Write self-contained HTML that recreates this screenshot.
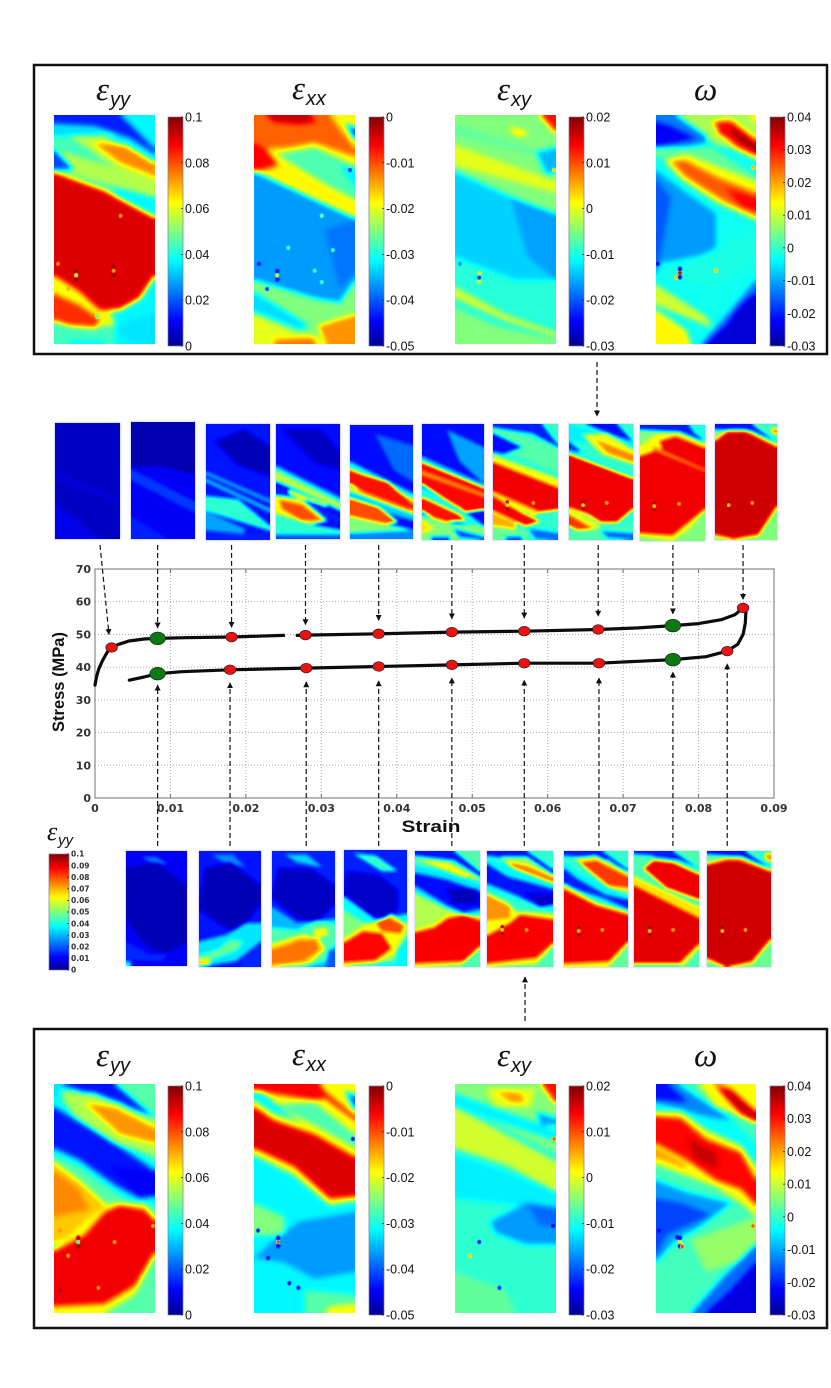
<!DOCTYPE html>
<html lang="en">
<head>
<meta charset="utf-8">
<title>Stress-strain curve with strain field maps</title>
<style>
html,body{margin:0;padding:0;background:#fff;}
body{width:831px;height:1388px;overflow:hidden;position:relative;}
canvas{position:absolute;z-index:0;display:block;}
canvas.thumb{box-shadow:0 0 1.5px 0.5px rgba(170,170,235,.7);}
svg{display:block;position:absolute;left:0;top:0;z-index:1;}
text{font-family:"Liberation Sans",sans-serif;}
.greek{font-family:"Liberation Serif","DejaVu Serif",serif;font-style:italic;}
.sub{font-family:"Liberation Sans",sans-serif;font-style:italic;}
.tick{font-family:"DejaVu Sans",sans-serif;font-weight:bold;fill:#333;}
</style>
</head>
<body>
<div id="fields"></div>
<svg id="root" xmlns="http://www.w3.org/2000/svg" width="831" height="1388" viewBox="0 0 831 1388">
<defs>
<linearGradient id="jet" x1="0" y1="1" x2="0" y2="0">
<stop offset="0" stop-color="#00008f"/><stop offset=".11" stop-color="#0000ff"/><stop offset=".375" stop-color="#00ffff"/><stop offset=".625" stop-color="#ffff00"/><stop offset=".875" stop-color="#ff0000"/><stop offset="1" stop-color="#800000"/>
</linearGradient>
<marker id="arrow" markerWidth="6" markerHeight="6" refX="4.5" refY="2.5" orient="auto"><path d="M0,0 L5,2.5 L0,5 Z" fill="#111"/></marker>
</defs>
<rect x="34" y="65" width="793" height="289" fill="none" stroke="#111" stroke-width="2.5"/>
<rect x="34" y="1029" width="793" height="299" fill="none" stroke="#111" stroke-width="2.5"/>
<g id="bars"></g>
<g id="titles"></g>
<g id="plot"></g>
</svg>
<script>
// ---- Stress-strain chart data ----
var xTickLabels = ["0","0.01","0.02","0.03","0.04","0.05","0.06","0.07","0.08","0.09"];
var xTickValues = [0,0.01,0.02,0.03,0.04,0.05,0.06,0.07,0.08,0.09];
var yTickValues = [0,10,20,30,40,50,60,70];
var upperStrain = [0,0.0002,0.0005,0.001,0.0016,0.0022,0.0032,0.0045,0.0065,0.0083,0.012,0.0181,0.025];
var upperStress = [34.5,37,39.5,42,44.5,46,47,48,48.6,48.8,49,49.2,49.7];
var upperStrain2 = [0.0268,0.0279,0.0376,0.0473,0.0569,0.0667,0.072,0.0766,0.08,0.083,0.0848,0.0859];
var upperStress2 = [49.7,49.8,50.2,50.7,51,51.5,52,52.7,53.3,54.5,56,58.1];
var lowerStrain = [0.00455,0.0065,0.0083,0.0115,0.0179,0.028,0.0376,0.0473,0.0569,0.0668,0.072,0.0766,0.081,0.0838,0.0852,0.0859,0.0862,0.0863];
var lowerStress = [36,37,38,38.6,39.2,39.7,40.2,40.7,41.2,41.2,41.8,42.3,43.2,44.9,47,50,53.5,58];
var redStrain = [0.0022,0.0181,0.0279,0.0376,0.0473,0.0569,0.0667,0.0859,0.0179,0.028,0.0376,0.0473,0.0569,0.0668,0.0838];
var redStress = [46,49.2,49.8,50.2,50.7,51,51.5,58.1,39.2,39.7,40.2,40.7,41.2,41.2,44.9];
var greenStrain = [0.0083,0.0766,0.0083,0.0766];
var greenStress = [48.8,52.7,38,42.3];
var downArrowStrain = [0.0083,0.0181,0.0279,0.0376,0.0473,0.0569,0.0667,0.0766,0.0859];
var downArrowTip = [52,52.2,53,54.3,54.8,55,55.6,56.3,60.7];
var upArrowStrain = [0.0083,0.0179,0.028,0.0376,0.0473,0.0569,0.0668,0.0766,0.0838];
var upArrowTip = [34.5,35.2,35.5,35.8,36.7,36,36.7,38.5,41];

// ---- Colorbar tick labels ----
var eyyTicks = ["0","0.02","0.04","0.06","0.08","0.1"];
var exxTicks = ["-0.05","-0.04","-0.03","-0.02","-0.01","0"];
var exyTicks = ["-0.03","-0.02","-0.01","0","0.01","0.02"];
var omegaTicks = ["-0.03","-0.02","-0.01","0","0.01","0.02","0.03","0.04"];
var legendTicks = ["0","0.01","0.02","0.03","0.04","0.05","0.06","0.07","0.08","0.09","0.1"];

// ---- Field maps: [base level, [level, "polygon in % of map"], ...], spots [x,y,level,halo] ----
var fieldTopEyy = [.44,[.37,"60,0 100,0 100,100 60,100"],[.55,"0,15 100,28 100,36 0,24"],[.14,"0,0 66,0 100,15 100,17 75,10 40,5 0,4"],[.18,"0,15 20,24 0,24"],[.33,"0,5 40,6 70,12 20,9 0,9"],[.56,"15,9 50,9 100,22 100,33 50,20"],[.74,"38,12 70,13 100,21 100,27 65,21"],[.47,"0,24 100,44 100,50 0,34"],[.62,"0,66 25,73 55,85 60,92 40,92 0,79"],[.91,"0,25 50,33 100,45 100,70 85,80 65,85 45,85 25,77 0,70"],[.83,"0,78 25,83 45,89 42,93 15,92 0,90"],[.35,"60,93 100,86 100,100 75,99"],[.38,"15,98 50,98 50,100 15,100"]];
var spotsTopEyy = [[22,70,.5,.97],[4,65,.72],[59,68,.7,.97],[66,44,.7],[14,76,.7],[43,88,.45],[98,24,.72]];
var fieldTopExx = [.5,[.63,"0,0 100,0 100,46 0,24"],[.78,"0,0 75,0 100,15 100,18 60,12 35,14 0,15"],[.93,"12,0 55,0 62,3 45,4 20,3"],[.88,"0,12 12,15 24,22 0,25"],[.45,"22,17 60,14 100,22 100,37 70,30"],[.36,"85,22 100,24 100,32"],[.14,"90,3 100,6 100,11"],[.27,"0,24.5 100,45 100,72 85,82 60,80 0,72"],[.23,"70,50 100,46 100,68 85,76"],[.34,"0,77 30,85 55,92 45,94 0,86"],[.6,"0,87 40,95 70,97 75,100 0,100"],[.73,"63,92 100,87 100,100 72,100"],[.76,"20,98 58,97 62,100 20,100"]];
var spotsTopExx = [[23,70,.62,.12],[67,44,.5],[34,58,.45],[78,59,.45],[60,68,.45],[67,73,.45],[95,24,.15],[5,65,.12],[13,76,.15]];
var fieldTopExy = [.41,[.5,"0,0 100,0 100,44 0,24"],[.6,"0,13 100,29 100,34 0,22"],[.47,"0,4 100,18 100,20 0,9"],[.67,"52,5 70,7 72,9 60,9"],[.86,"84,0 100,0 100,8"],[.3,"80,16 100,14 100,25 90,26"],[.33,"0,25 100,45 100,72 60,72 0,62"],[.28,"55,36 100,43 100,72 72,62"],[.58,"0,75 50,87 100,95 100,97 50,90 0,80"],[.5,"0,84 40,92 100,98 100,100 0,100"]];
var spotsTopExy = [[24,71,.13,.6],[98,24,.7],[5,65,.25]];
var fieldTopOmega = [.39,[.54,"20,0 100,0 100,17 60,13"],[.62,"92,0 100,0 100,5"],[.24,"0,0 20,0 50,9 50,12 0,17"],[.1,"0,3 15,5 40,10 0,14"],[.47,"0,14 55,14 100,27 100,33 0,18"],[.62,"8,20 30,17 100,29 100,46 60,38 25,28"],[.79,"15,20 30,20 60,27 100,34 100,44 70,38 30,27"],[.88,"70,32 100,36 100,42 85,40"],[.75,"55,3 75,2 100,10 100,19 80,15"],[.88,"60,3 75,3 100,12 100,17 85,14 62,8"],[.98,"72,5 85,8 100,13 100,16 85,12"],[.27,"0,24 30,34 60,43 60,60 0,65"],[.2,"0,28 15,36 5,60 0,70"],[.4,"0,70 50,60 100,50 100,65 60,75"],[.22,"45,100 75,85 100,72 100,100"],[.07,"50,100 70,92 85,83 100,78 100,100"],[.58,"0,74 50,88 57,93 0,83"],[.63,"0,85 30,94 35,100 0,100"]];
var spotsTopOmega = [[24,69,.97,.1],[20,71,.7],[60,68,.7],[97,23,.72],[2,65,.1]];
var fieldBotEyy = [.46,[.35,"0,0 20,0 15,8 0,6"],[.37,"0,6 30,15 60,23 100,34 100,53 85,54 60,47 25,36 0,31"],[.13,"0,10 30,18 60,26 100,38 100,49 85,50 60,44 25,33 0,28"],[.1,"55,36 100,39 100,48 85,49"],[.13,"8,0 60,0 100,15 100,17 65,8 30,4"],[.55,"5,3 40,4 100,15 100,31 60,26 20,14"],[.73,"30,8 60,10 100,19 100,26 65,22"],[.68,"0,34 25,42 50,52 60,56 30,64 0,70"],[.74,"0,38 25,46 35,55 0,58"],[.62,"0,72 30,60 55,52 90,52 100,58 100,75 80,92 50,100 0,100"],[.89,"0,73 30,66 50,56 65,53 90,55 100,60 100,73 80,88 50,96 0,97"]];
var spotsBotEyy = [[24,69,.4,.97],[6,64,.72],[60,69,.7],[14,75,.7],[6,90,.95],[44,89,.72],[98,62,.7]];
var fieldBotExx = [.37,[.62,"0,0 100,0 100,32 30,12"],[.45,"20,9 60,8 100,22 100,28 60,18"],[.88,"0,0 65,0 75,6 60,7 30,5 0,3"],[.86,"70,3 100,14 100,16 72,7"],[.2,"90,3 100,5 100,12"],[.62,"0,7 20,13 60,19 100,29 100,51 75,53 40,40 0,31"],[.91,"0,10 20,16 60,22 100,32 100,49 75,50 40,36 0,28"],[.5,"0,52 30,58 30,66 0,66"],[.27,"45,60 100,56 100,82 60,85 30,78 0,76 20,68"],[.46,"50,90 100,92 100,100 50,100"],[.62,"75,97 100,96 100,100 70,100"]];
var spotsBotExx = [[24,69,.85,.12],[4,64,.1],[14,76,.1],[35,87,.1],[44,89,.1],[98,24,.1]];
var fieldBotExy = [.42,[.5,"0,0 100,0 100,30 0,8"],[.6,"30,2 80,2 75,10 40,10"],[.73,"40,3 65,4 70,8 55,8"],[.86,"85,0 100,0 100,9"],[.36,"0,4 100,20 100,25 0,10"],[.27,"80,12 100,15 100,18 85,18"],[.58,"0,10 50,22 100,34 100,47 50,35 0,28"],[.36,"0,30 50,38 100,47 100,55 0,50"],[.27,"35,60 70,52 100,55 100,70 70,70 40,65"],[.22,"70,52 100,54 100,62 85,62"],[.47,"0,82 50,90 60,100 0,100"]];
var spotsBotExy = [[24,69,.1],[15,75,.7],[44,89,.1],[97,62,.1],[98,24,.8]];
var fieldBotOmega = [.44,[.62,"42,0 100,0 100,16 60,10"],[.25,"0,0 22,0 60,11 78,16 40,14 0,10"],[.12,"0,0 12,0 32,8 0,7"],[.38,"0,8 40,13 80,17 100,26 100,36 60,22 0,12"],[.85,"58,0 75,2 100,12 100,17 85,14"],[.98,"62,2 75,4 100,13 100,15 85,11"],[.62,"0,12 25,12 50,20 85,27 100,36 100,58 85,52 60,45 30,40 0,35"],[.87,"0,14 25,15 50,24 85,30 100,42 100,53 85,46 60,42 30,33 0,26"],[.93,"30,23 60,30 62,37 40,33"],[.72,"0,28 30,35 30,37 0,32"],[.27,"0,42 30,47 75,52 45,62 20,68 0,78"],[.18,"0,50 25,52 55,57 25,63 10,66 0,75"],[.52,"35,68 100,58 100,75 50,82"],[.22,"35,100 70,83 100,70 100,100"],[.08,"50,100 75,90 100,78 100,100"]];
var spotsBotOmega = [[24,69,.65,.1],[21,67,.1],[26,71,.85],[3,64,.1],[97,62,.8]];

var t1 = [.05,[.09,"0,68 70,100 0,100"],[.07,"0,40 100,65 100,70 0,50"]];
var t2 = [.1,[.03,"0,0 100,0 100,45 50,38 0,38"],[.17,"0,40 100,68 100,78 0,50"],[.14,"0,80 60,100 0,100"]];
var t3 = [.13,[.04,"15,15 60,5 100,20 100,45 50,35"],[.13,"0,36 100,62 100,100 0,100"],[.3,"0,41 100,65 100,68 0,44"],[.34,"0,47 100,73 100,76 0,50"],[.42,"0,62 50,65 100,88 100,92 0,75"],[.28,"0,75 60,90 60,95 0,92"],[.14,"0,95 100,95 100,100 0,100"]];
var t4 = [.12,[.05,"10,5 70,5 100,25 100,40 60,33"],[.35,"0,36 100,64 100,76 0,46"],[.55,"0,40 100,68 100,74 0,50"],[.72,"20,57 80,70 80,72 20,61"],[.15,"0,55 100,82 100,86 0,59"],[.62,"0,62 40,65 80,84 50,88 0,80"],[.8,"5,66 40,70 72,84 40,84 10,74"],[.42,"0,78 60,88 100,92 100,97 0,97"],[.2,"0,96 100,96 100,100 0,100"]];
var t5 = [.12,[.22,"40,8 100,18 100,50 70,40"],[.38,"0,32 100,60 100,75 0,45"],[.65,"0,38 100,65 100,76 0,52"],[.86,"0,40 60,50 100,70 100,74 60,72 0,52"],[.68,"0,54 100,75 100,80 0,60"],[.32,"0,58 100,78 100,84 0,68"],[.8,"0,64 45,72 76,85 50,88 0,80"],[.5,"0,80 100,92 100,96 0,95"],[.25,"0,95 100,92 100,100 0,100"]];
var t6 = [.12,[.28,"40,5 100,20 100,52 60,32"],[.35,"0,28 100,52 100,62 0,38"],[.87,"0,33 100,55 100,74 70,76 40,66 0,52"],[.72,"0,40 100,60 100,63 0,44"],[.4,"0,54 60,72 100,88 100,92 60,84 0,62"],[.86,"0,63 60,78 70,83 30,85 0,75"],[.5,"0,78 50,86 100,88 100,100 0,100"],[.65,"0,83 20,90 0,94"],[.2,"50,90 100,97 100,100 60,98"],[.18,"15,97 45,97 45,100 15,100"]];
var t7 = [.42,[.14,"0,0 75,0 100,18 100,20 60,8 0,3"],[.46,"0,3 100,20 100,42 0,18"],[.12,"0,8 45,20 15,26 0,24"],[.62,"0,27 100,47 100,55 0,33"],[.89,"0,33 100,55 100,74 70,76 0,60"],[.65,"0,58 70,75 65,80 0,62"],[.88,"0,62 50,78 72,84 50,88 0,75"],[.7,"0,76 35,85 35,92 0,90"],[.48,"0,88 50,92 55,100 0,100"],[.22,"55,90 100,94 100,100 65,99"],[.18,"20,97 45,97 45,100 20,100"]];
var t8 = [.42,[.12,"25,0 75,0 100,15 70,10"],[.36,"0,0 100,15 100,20 0,15"],[.16,"0,15 20,24 0,24"],[.6,"20,9 60,8 100,22 100,35 50,26"],[.74,"40,13 100,26 100,33 60,25"],[.38,"0,22 100,46 100,50 0,25"],[.89,"0,26 100,47 100,73 75,85 50,85 30,78 0,72"],[.6,"0,72 30,80 50,88 40,94 0,85"],[.82,"0,78 30,88 45,92 15,92 0,88"],[.45,"0,92 100,88 100,100 0,100"],[.22,"50,92 100,94 100,100 60,98"]];
var t9 = [.5,[.14,"0,0 75,0 100,15 60,6 0,4"],[.4,"75,0 100,0 100,12 85,8"],[.62,"0,18 25,8 60,6 100,16 100,74 75,90 50,100 0,96"],[.89,"0,27 35,20 30,14 55,10 100,20 100,72 50,95 0,93"],[.74,"20,18 100,38 100,40 20,22"]];
var t10 = [.5,[.13,"0,0 60,0 100,16 60,6 0,5"],[.42,"70,0 100,0 100,16"],[.72,"90,3 100,4 100,9 92,8"],[.62,"0,12 20,5 50,5 100,18 100,72 70,97 30,100 0,98"],[.92,"0,15 20,7 50,7 100,20 100,70 70,95 30,99 0,95"]];
var b1 = [.1,[.04,"0,15 50,10 100,30 100,80 60,90 30,80 0,60"],[.23,"25,5 50,5 70,12 40,10"],[.15,"0,78 40,90 70,88 60,96 0,95"],[.38,"0,96 8,96 8,100 0,100"]];
var b2 = [.13,[.25,"20,3 55,3 75,14 40,10"],[.04,"10,15 50,10 100,30 100,45 65,70 40,65 0,50"],[.35,"0,78 45,72 75,62 100,62 100,78 60,95 0,100"],[.47,"0,90 30,85 50,76 72,78 60,86 0,98"],[.65,"0,93 18,93 18,98 0,99"],[.15,"70,92 100,80 100,100 70,100"]];
var b3 = [.14,[.33,"20,3 55,3 80,14 40,10"],[.05,"10,15 60,15 100,30 100,45 70,62 40,58 0,40"],[.3,"0,48 40,62 100,58 100,100 0,100"],[.45,"0,66 40,68 70,60 100,62 100,80 85,95 50,100 0,100"],[.65,"0,80 30,75 50,72 75,75 85,85 60,97 0,100"],[.76,"0,85 30,80 40,77 70,77 75,85 50,95 0,98"],[.63,"65,68 85,66 90,72 70,75"],[.2,"90,85 100,85 100,100 85,100"]];
var b4 = [.14,[.43,"15,3 50,5 85,18 60,18"],[.06,"5,18 55,22 85,35 85,50 70,62 40,55 0,38"],[.38,"0,40 50,60 100,55 100,100 0,100"],[.5,"0,52 30,62 100,62 100,95 0,100"],[.62,"0,76 30,65 55,62 75,55 100,65 95,75 80,90 50,98 0,100"],[.87,"0,80 30,70 60,72 75,85 50,95 0,97"],[.8,"50,62 70,58 95,65 90,72 60,70"],[.37,"85,85 100,75 100,100 80,100"]];
var b5 = [.45,[.13,"0,0 60,0 100,18 100,22 60,8 0,4"],[.62,"5,7 50,10 100,24 70,22"],[.35,"0,12 50,18 100,28 100,54 75,58 50,52 0,36"],[.12,"0,19 50,25 100,35 100,50 75,53 50,47 0,30"],[.04,"49,33 95,33 95,45 60,45"],[.55,"0,36 50,50 75,55 40,65 0,72"],[.62,"0,68 30,62 50,54 100,56 100,86 70,99 0,100"],[.88,"0,70 30,66 50,58 75,55 100,60 100,82 75,95 0,97"],[.45,"75,96 100,84 100,100 70,100"]];
var b6 = [.42,[.13,"0,0 60,0 100,16 100,20 70,10 0,4"],[.53,"20,5 60,5 100,20 100,34 60,28"],[.74,"30,9 60,12 100,22 100,28 50,20"],[.37,"0,6 100,28 100,52 0,33"],[.13,"0,11 30,22 100,33 100,46 80,48 40,37 0,28"],[.06,"60,36 100,38 100,46 80,48"],[.62,"0,36 30,44 60,60 30,70 0,80"],[.73,"0,38 35,48 35,58 0,60"],[.62,"0,75 35,62 50,52 100,54 100,82 75,98 0,100"],[.88,"0,73 35,62 50,55 100,59 100,79 75,92 0,97"],[.45,"75,97 100,84 100,100 70,100"]];
var b7 = [.42,[.14,"0,0 60,0 100,16 100,20 70,8 0,4"],[.6,"15,6 50,4 100,18 100,36 70,32"],[.82,"25,10 50,8 100,22 100,32 70,30"],[.36,"0,10 20,18 70,32 100,40 100,54 60,44 0,32"],[.14,"0,15 20,24 65,38 100,42 100,50 60,40 0,30"],[.62,"0,28 50,44 100,52 100,82 70,100 0,100"],[.89,"0,33 50,47 100,55 100,78 70,95 0,97"],[.47,"72,100 100,80 100,100"]];
var b8 = [.45,[.14,"0,0 60,0 100,15 70,8 0,3"],[.45,"0,3 30,4 15,16 0,22"],[.65,"0,22 100,48 100,60 0,32"],[.89,"15,15 30,8 60,10 100,20 100,42 50,32"],[.9,"0,30 100,58 100,80 70,97 0,97"],[.62,"70,97 100,80 100,84 75,100"]];
var b9 = [.48,[.13,"0,0 60,0 100,15 50,5 0,3"],[.42,"70,0 100,0 100,15"],[.72,"90,2 100,2 100,9 92,8"],[.62,"0,10 30,5 55,5 100,16 100,78 70,98 30,100 0,95"],[.92,"0,12 30,8 50,8 100,18 100,75 70,95 30,100 0,92"]];
var spotsThumbT7 = [[22,70,.62,.97],[62,68,.7]];
var spotsThumbT8 = [[22,70,.64,.97],[59,68,.7]];
var spotsThumbT9 = [[22,70,.64,.97],[60,68,.7]];
var spotsThumbT10 = [[22,70,.64,.97],[60,68,.7]];
var spotsThumbB6 = [[23,68,.64,.97],[60,68,.7]];
var spotsThumbB7 = [[23,69,.64,.97],[60,68,.7]];
var spotsThumbB8 = [[24,69,.64,.97],[60,68,.7]];
var spotsThumbB9 = [[24,69,.64,.97],[60,68,.7]];

var NS = "http://www.w3.org/2000/svg";
function mk(tag, attrs, parent, txt){
  var e = document.createElementNS(NS, tag);
  for (var k in attrs) e.setAttribute(k, attrs[k]);
  if (txt !== undefined) e.textContent = txt;
  parent.appendChild(e);
  return e;
}
function piece(p, stops){
  for (var i = 1; i < stops.length; i++) {
    if (p <= stops[i][0]) {
      var a = stops[i-1], b = stops[i], t = (p - a[0]) / (b[0] - a[0]);
      return a[1] + (b[1] - a[1]) * t;
    }
  }
  return stops[stops.length-1][1];
}
var jetR = [[0,0],[.375,0],[.625,255],[.875,255],[1,128]];
var jetG = [[0,0],[.11,0],[.375,255],[.625,255],[.875,0],[1,0]];
var jetB = [[0,143],[.11,255],[.375,255],[.625,0],[1,0]];
function boxPass(src, w, h, r){
  var tmp = new Float32Array(src.length), x, y, k, s, n = 2 * r + 1;
  for (y = 0; y < h; y++) {
    for (x = 0; x < w; x++) {
      s = 0;
      for (k = -r; k <= r; k++) s += src[y * w + Math.max(0, Math.min(w - 1, x + k))];
      tmp[y * w + x] = s / n;
    }
  }
  for (y = 0; y < h; y++) {
    for (x = 0; x < w; x++) {
      s = 0;
      for (k = -r; k <= r; k++) s += tmp[Math.max(0, Math.min(h - 1, y + k)) * w + x];
      src[y * w + x] = s / n;
    }
  }
}
function stamp(val, w, h, cx, cy, rx, ry, level){
  for (var y = Math.floor(cy - ry - 1); y <= cy + ry + 1; y++) {
    for (var x = Math.floor(cx - rx - 1); x <= cx + rx + 1; x++) {
      if (x < 0 || y < 0 || x >= w || y >= h) continue;
      var d = Math.pow((x + .5 - cx) / rx, 2) + Math.pow((y + .5 - cy) / ry, 2);
      if (d < 1) {
        var a = 1 - d * d;
        val[y * w + x] = val[y * w + x] * (1 - a) + level * a;
      }
    }
  }
}
function drawField(name, field, spots, x, y, w, h, passes){
  var host = document.getElementById("fields");
  var c = document.createElement("canvas");
  
  
  c.width = w;
  c.height = h;
  c.style.left = x + "px";
  c.style.top = y + "px";
  if (w < 80) c.className = "thumb";
  host.appendChild(c);
  var ctx = c.getContext("2d");
  function grey(v){ var n = Math.round(v * 255); return "rgb(" + n + "," + n + "," + n + ")"; }
  ctx.fillStyle = grey(field[0]);
  ctx.fillRect(0, 0, w, h);
  for (var i = 1; i < field.length; i++) {
    var pts = field[i][1].split(" ");
    ctx.beginPath();
    pts.forEach(function(p, j){
      var q = p.split(",");
      var px = q[0] / 100 * w, py = q[1] / 100 * h;
      if (j) ctx.lineTo(px, py); else ctx.moveTo(px, py);
    });
    ctx.closePath();
    ctx.fillStyle = grey(field[i][0]);
    ctx.fill();
  }
  var img = ctx.getImageData(0, 0, w, h), d = img.data;
  var val = new Float32Array(w * h), n;
  for (n = 0; n < val.length; n++) val[n] = d[n * 4] / 255;
  for (n = 0; n < passes; n++) boxPass(val, w, h, 2);
  var big = w > 80;
  (spots || []).forEach(function(sp){
    var cx = sp[0] / 100 * w, cy = sp[1] / 100 * h;
    if (sp[3] !== undefined) {
      stamp(val, w, h, cx, cy - (big ? 4 : 3), big ? 2.6 : 2, big ? 3 : 2.5, sp[3]);
      stamp(val, w, h, cx, cy + (big ? 4 : 3), big ? 2.6 : 2, big ? 3 : 2.5, sp[3]);
    }
    stamp(val, w, h, cx, cy, big ? 2.3 : 2.2, big ? 2.6 : 2.4, sp[2]);
  });
  for (n = 0; n < val.length; n++) {
    var v = Math.max(0, Math.min(1, val[n]));
    d[n * 4] = piece(v, jetR);
    d[n * 4 + 1] = piece(v, jetG);
    d[n * 4 + 2] = piece(v, jetB);
    d[n * 4 + 3] = 255;
  }
  ctx.putImageData(img, 0, 0);
}
drawField("eyy-map-unloading", fieldTopEyy, spotsTopEyy, 54, 115, 101, 229, 3);
drawField("exx-map-unloading", fieldTopExx, spotsTopExx, 254, 115, 101, 229, 3);
drawField("exy-map-unloading", fieldTopExy, spotsTopExy, 455, 115, 101, 229, 3);
drawField("omega-map-unloading", fieldTopOmega, spotsTopOmega, 656, 115, 100, 229, 3);
drawField("eyy-map-loading", fieldBotEyy, spotsBotEyy, 54, 1084, 101, 229, 3);
drawField("exx-map-loading", fieldBotExx, spotsBotExx, 254, 1084, 101, 229, 3);
drawField("exy-map-loading", fieldBotExy, spotsBotExy, 455, 1084, 101, 229, 3);
drawField("omega-map-loading", fieldBotOmega, spotsBotOmega, 656, 1084, 100, 229, 3);
drawField("top-thumbnail-1", t1, null, 55, 423, 65, 116, 1);
drawField("top-thumbnail-2", t2, null, 131, 422, 64, 117, 1);
drawField("top-thumbnail-3", t3, null, 206, 424, 64, 116, 1);
drawField("top-thumbnail-4", t4, null, 276, 424, 64, 115, 1);
drawField("top-thumbnail-5", t5, null, 350, 425, 63, 114, 1);
drawField("top-thumbnail-6", t6, null, 422, 424, 62, 116, 1);
drawField("top-thumbnail-7", t7, spotsThumbT7, 493, 424, 65, 116, 1);
drawField("top-thumbnail-8", t8, spotsThumbT8, 569, 424, 64, 116, 1);
drawField("top-thumbnail-9", t9, spotsThumbT9, 640, 425, 65, 116, 1);
drawField("top-thumbnail-10", t10, spotsThumbT10, 715, 424, 62, 116, 1);
drawField("bottom-thumbnail-1", b1, null, 126, 851, 61, 115, 1);
drawField("bottom-thumbnail-2", b2, null, 199, 851, 62, 116, 1);
drawField("bottom-thumbnail-3", b3, null, 272, 851, 63, 116, 1);
drawField("bottom-thumbnail-4", b4, null, 344, 850, 63, 116, 1);
drawField("bottom-thumbnail-5", b5, null, 415, 851, 65, 116, 1);
drawField("bottom-thumbnail-6", b6, spotsThumbB6, 487, 851, 66, 116, 1);
drawField("bottom-thumbnail-7", b7, spotsThumbB7, 564, 851, 64, 116, 1);
drawField("bottom-thumbnail-8", b8, spotsThumbB8, 634, 851, 65, 116, 1);
drawField("bottom-thumbnail-9", b9, spotsThumbB9, 707, 851, 64, 116, 1);

// ---- Colorbars ----
function drawBar(name, x, y, w, h, ticks, fontPx, cls){
  var barsLayer = document.getElementById("bars");
  var r = mk("rect", {x:x, y:y, width:w, height:h, fill:"url(#jet)", stroke:"#7a7a9a", "stroke-width":.7}, barsLayer);
  
  
  ticks.forEach(function(lbl, i){
    var ty = y + h - h * i / (ticks.length - 1);
    mk("line", {x1:x + w - 2, x2:x + w, y1:ty, y2:ty, stroke:"#222", "stroke-width":.7}, barsLayer);
    var at = {x:x + w + 2, y:ty + fontPx * .36, "font-size":fontPx, fill:"#111"};
    if (cls) at["class"] = cls;
    var t = mk("text", at, barsLayer, lbl);
    
    
  });
}
drawBar("eyy-colorbar-top", 168, 117, 15, 229, eyyTicks, 12.5);
drawBar("exx-colorbar-top", 369, 117, 15, 229, exxTicks, 12.5);
drawBar("exy-colorbar-top", 569, 117, 15, 229, exyTicks, 12.5);
drawBar("omega-colorbar-top", 770, 117, 15, 229, omegaTicks, 12.5);
drawBar("eyy-colorbar-bottom", 168, 1086, 15, 229, eyyTicks, 12.5);
drawBar("exx-colorbar-bottom", 369, 1086, 15, 229, exxTicks, 12.5);
drawBar("exy-colorbar-bottom", 569, 1086, 15, 229, exyTicks, 12.5);
drawBar("omega-colorbar-bottom", 770, 1086, 15, 229, omegaTicks, 12.5);
drawBar("eyy-legend-colorbar", 49, 854, 20, 116, legendTicks, 7.5, "tick");

// ---- Titles ----
function drawTitle(name, x, base, sub){
  var titles = document.getElementById("titles");
  var t = mk("text", {x:x, y:base, "font-size":33, "class":"greek", fill:"#111"}, titles, "ε");
  
  
  var u = mk("text", {x:x + 14, y:base + 6, "font-size":20, "class":"sub", fill:"#111"}, titles, sub);
  
  
}
function drawOmega(name, x, base){
  var t = mk("text", {x:x, y:base, "font-size":33, "class":"greek", fill:"#111"}, document.getElementById("titles"), "ω");
  
  
}
drawTitle("eyy-title-top", 96, 100, "yy");
drawTitle("exx-title-top", 292, 99, "xx");
drawTitle("exy-title-top", 497, 100, "xy");
drawOmega("omega-title-top", 694, 100);
drawTitle("eyy-title-bottom", 96, 1066, "yy");
drawTitle("exx-title-bottom", 292, 1065, "xx");
drawTitle("exy-title-bottom", 497, 1066, "xy");
drawOmega("omega-title-bottom", 694, 1066);
var legendEps = mk("text", {x:47, y:840, "font-size":26, "class":"greek", fill:"#111"}, document.getElementById("titles"), "ε");


var legendSub = mk("text", {x:58, y:845, "font-size":15, "class":"sub", fill:"#111"}, document.getElementById("titles"), "yy");



// ---- Stress-strain plot ----
var plot = document.getElementById("plot");
function xScale(s){ return 95 + s / 0.09 * 679; }
function yScale(v){ return 798 - v / 70 * 229; }
xTickValues.forEach(function(v, i){
  var px = xScale(v);
  if (i > 0 && i < xTickValues.length - 1) {
    var g = mk("line", {x1:px, x2:px, y1:yScale(70), y2:yScale(0), stroke:"#aaa", "stroke-width":1, "stroke-dasharray":"1 2"}, plot);
    
    
  }
  mk("line", {x1:px, x2:px, y1:yScale(0), y2:yScale(0) - 4, stroke:"#666", "stroke-width":1}, plot);
  mk("line", {x1:px, x2:px, y1:yScale(70), y2:yScale(70) + 4, stroke:"#666", "stroke-width":1}, plot);
  var t = mk("text", {x:px, y:812, "font-size":11, "text-anchor":"middle", "class":"tick"}, plot, xTickLabels[i]);
  
  
});
yTickValues.forEach(function(v){
  var py = yScale(v);
  if (v > 0 && v < 70) {
    var g = mk("line", {x1:95, x2:774, y1:py, y2:py, stroke:"#aaa", "stroke-width":1, "stroke-dasharray":"1 2"}, plot);
    
    
  }
  var t = mk("text", {x:91, y:py + 4, "font-size":11, "text-anchor":"end", "class":"tick"}, plot, String(v));
  
  
});
var frame = mk("rect", {x:95, y:569, width:679, height:229, fill:"none", stroke:"#888", "stroke-width":1.2}, plot);


var yTitle = mk("text", {x:0, y:0, "font-size":16.5, "font-weight":"bold", "text-anchor":"middle", fill:"#111", transform:"translate(64,682) rotate(-90)"}, plot, "Stress (MPa)");


var xTitle = mk("text", {x:431, y:832, "font-size":17, "font-weight":"bold", "text-anchor":"middle", fill:"#111", textLength:59, lengthAdjust:"spacingAndGlyphs"}, plot, "Strain");



function dashed(x1, y1, x2, y2, name){
  var l = mk("line", {x1:x1, y1:y1, x2:x2, y2:y2, stroke:"#111", "stroke-width":1.2, "stroke-dasharray":"5 3", "marker-end":"url(#arrow)"}, plot);
  
  
}
downArrowStrain.forEach(function(s, i){
  dashed(xScale(s), 545, xScale(s), yScale(downArrowTip[i]), 'arrow-top-to-curve');
});
dashed(100, 545, 109, yScale(50), 'arrow-top-to-curve');
upArrowStrain.forEach(function(s, i){
  dashed(xScale(s), 846, xScale(s), yScale(upArrowTip[i]), 'arrow-bottom-to-curve');
});
dashed(597, 362, 597, 416, 'arrow-top-box-to-thumbnail');
dashed(525, 1021, 525, 977, 'arrow-bottom-box-to-thumbnail');

function curve(xs, ys, name, width){
  var d = xs.map(function(s, i){ return (i ? "L" : "M") + xScale(s).toFixed(1) + "," + yScale(ys[i]).toFixed(1); }).join(" ");
  var p = mk("path", {d:d, fill:"none", stroke:"#0c0c0c", "stroke-width":width, "stroke-linejoin":"round", "stroke-linecap":"round"}, plot);
  
  
}
curve(upperStrain, upperStress, 'loading-curve-first-part', 3.2);
curve(upperStrain2, upperStress2, 'loading-curve-second-part', 3.2);
curve(lowerStrain, lowerStress, 'unloading-curve', 3.2);
redStrain.forEach(function(s, i){
  var c = mk("ellipse", {cx:xScale(s), cy:yScale(redStress[i]), rx:5.8, ry:4.8, fill:"#ee1111", stroke:"#222", "stroke-width":.7}, plot);
  
  
});
greenStrain.forEach(function(s, i){
  var c = mk("ellipse", {cx:xScale(s), cy:yScale(greenStress[i]), rx:7.8, ry:6.3, fill:"#0b7a10", stroke:"#222", "stroke-width":.7}, plot);
  
  
});
</script>
</body>
</html>
